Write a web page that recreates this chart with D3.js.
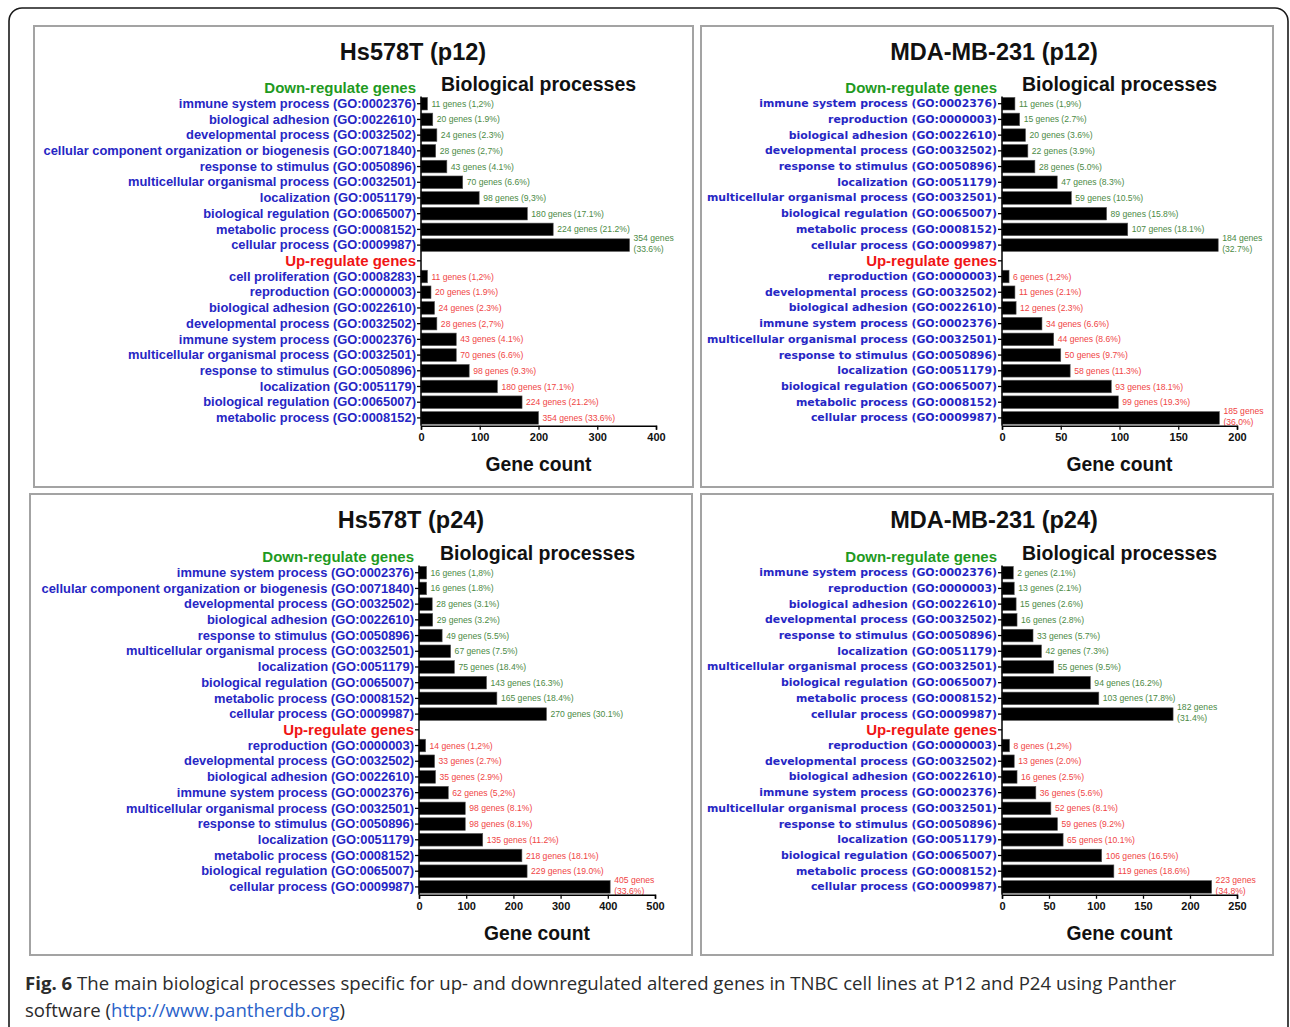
<!DOCTYPE html>
<html>
<head>
<meta charset="utf-8">
<script src="https://cdnjs.cloudflare.com/ajax/libs/d3/7.8.5/d3.min.js"></script>
<style>
  body { margin: 0; background: #fff; }
  svg { display: block; }
</style>
</head>
<body>
<div id="chart"></div>
<script>
// ---- data ----
const hs12Title = "Hs578T (p12)";
const hs12Ticks = [0, 100, 200, 300, 400];
const hs12DownTerms = [
  "immune system process (GO:0002376)",
  "biological adhesion (GO:0022610)",
  "developmental process (GO:0032502)",
  "cellular component organization or biogenesis (GO:0071840)",
  "response to stimulus (GO:0050896)",
  "multicellular organismal process (GO:0032501)",
  "localization (GO:0051179)",
  "biological regulation (GO:0065007)",
  "metabolic process (GO:0008152)",
  "cellular process (GO:0009987)"
];
const hs12DownCounts = [11, 20, 27, 25, 44, 71, 99, 181, 225, 355];
const hs12DownLabels = ["11 genes (1,2%)", "20 genes (1.9%)", "24 genes (2.3%)", "28 genes (2,7%)", "43 genes (4.1%)",
  "70 genes (6.6%)", "98 genes (9,3%)", "180 genes (17.1%)", "224 genes (21.2%)", "354 genes\n(33.6%)"];
const hs12UpTerms = [
  "cell proliferation (GO:0008283)",
  "reproduction (GO:0000003)",
  "biological adhesion (GO:0022610)",
  "developmental process (GO:0032502)",
  "immune system process (GO:0002376)",
  "multicellular organismal process (GO:0032501)",
  "response to stimulus (GO:0050896)",
  "localization (GO:0051179)",
  "biological regulation (GO:0065007)",
  "metabolic process (GO:0008152)"
];
const hs12UpCounts = [11, 17, 23, 27, 60, 60, 82, 130, 172, 200];
const hs12UpLabels = ["11 genes (1,2%)", "20 genes (1.9%)", "24 genes (2.3%)", "28 genes (2,7%)", "43 genes (4.1%)",
  "70 genes (6.6%)", "98 genes (9.3%)", "180 genes (17.1%)", "224 genes (21.2%)", "354 genes (33.6%)"];

const mda12Title = "MDA-MB-231 (p12)";
const mda12Ticks = [0, 50, 100, 150, 200];
const mda12DownTerms = [
  "immune system process (GO:0002376)",
  "reproduction (GO:0000003)",
  "biological adhesion (GO:0022610)",
  "developmental process (GO:0032502)",
  "response to stimulus (GO:0050896)",
  "localization (GO:0051179)",
  "multicellular organismal process (GO:0032501)",
  "biological regulation (GO:0065007)",
  "metabolic process (GO:0008152)",
  "cellular process (GO:0009987)"
];
const mda12DownCounts = [11, 15, 20, 22, 28, 47, 59, 89, 107, 184];
const mda12DownLabels = ["11 genes (1,9%)", "15 genes (2.7%)", "20 genes (3.6%)", "22 genes (3.9%)", "28 genes (5.0%)",
  "47 genes (8.3%)", "59 genes (10.5%)", "89 genes (15.8%)", "107 genes (18.1%)", "184 genes\n(32.7%)"];
const mda12UpTerms = [
  "reproduction (GO:0000003)",
  "developmental process (GO:0032502)",
  "biological adhesion (GO:0022610)",
  "immune system process (GO:0002376)",
  "multicellular organismal process (GO:0032501)",
  "response to stimulus (GO:0050896)",
  "localization (GO:0051179)",
  "biological regulation (GO:0065007)",
  "metabolic process (GO:0008152)",
  "cellular process (GO:0009987)"
];
const mda12UpCounts = [6, 11, 12, 34, 44, 50, 58, 93, 99, 185];
const mda12UpLabels = ["6 genes (1,2%)", "11 genes (2.1%)", "12 genes (2.3%)", "34 genes (6.6%)", "44 genes (8.6%)",
  "50 genes (9.7%)", "58 genes (11.3%)", "93 genes (18.1%)", "99 genes (19.3%)", "185 genes\n(36.0%)"];

const hs24Title = "Hs578T (p24)";
const hs24Ticks = [0, 100, 200, 300, 400, 500];
const hs24DownTerms = [
  "immune system process (GO:0002376)",
  "cellular component organization or biogenesis (GO:0071840)",
  "developmental process (GO:0032502)",
  "biological adhesion (GO:0022610)",
  "response to stimulus (GO:0050896)",
  "multicellular organismal process (GO:0032501)",
  "localization (GO:0051179)",
  "biological regulation (GO:0065007)",
  "metabolic process (GO:0008152)",
  "cellular process (GO:0009987)"
];
const hs24DownCounts = [16, 16, 28, 29, 49, 67, 75, 143, 165, 270];
const hs24DownLabels = ["16 genes (1,8%)", "16 genes (1.8%)", "28 genes (3.1%)", "29 genes (3.2%)", "49 genes (5.5%)",
  "67 genes (7.5%)", "75 genes (18.4%)", "143  genes (16.3%)", "165 genes (18.4%)", "270 genes (30.1%)"];
const hs24UpTerms = [
  "reproduction (GO:0000003)",
  "developmental process (GO:0032502)",
  "biological adhesion (GO:0022610)",
  "immune system process (GO:0002376)",
  "multicellular organismal process (GO:0032501)",
  "response to stimulus (GO:0050896)",
  "localization (GO:0051179)",
  "metabolic process (GO:0008152)",
  "biological regulation (GO:0065007)",
  "cellular process (GO:0009987)"
];
const hs24UpCounts = [14, 33, 35, 62, 98, 98, 135, 218, 229, 405];
const hs24UpLabels = ["14 genes (1,2%)", "33 genes (2.7%)", "35 genes (2.9%)", "62 genes (5,2%)", "98 genes (8.1%)",
  "98 genes (8.1%)", "135 genes (11.2%)", "218 genes (18.1%)", "229 genes (19.0%)", "405 genes\n(33.6%)"];

const mda24Title = "MDA-MB-231 (p24)";
const mda24Ticks = [0, 50, 100, 150, 200, 250];
const mda24DownTerms = [
  "immune system process (GO:0002376)",
  "reproduction (GO:0000003)",
  "biological adhesion (GO:0022610)",
  "developmental process (GO:0032502)",
  "response to stimulus (GO:0050896)",
  "localization (GO:0051179)",
  "multicellular organismal process (GO:0032501)",
  "biological regulation (GO:0065007)",
  "metabolic process (GO:0008152)",
  "cellular process (GO:0009987)"
];
const mda24DownCounts = [12, 13, 15, 16, 33, 42, 55, 94, 103, 182];
const mda24DownLabels = ["2 genes (2.1%)", "13 genes (2.1%)", "15 genes (2.6%)", "16 genes (2.8%)", "33 genes (5.7%)",
  "42 genes (7.3%)", "55 genes (9.5%)", "94 genes (16.2%)", "103 genes (17.8%)", "182 genes\n(31.4%)"];
const mda24UpTerms = [
  "reproduction (GO:0000003)",
  "developmental process (GO:0032502)",
  "biological adhesion (GO:0022610)",
  "immune system process (GO:0002376)",
  "multicellular organismal process (GO:0032501)",
  "response to stimulus (GO:0050896)",
  "localization (GO:0051179)",
  "biological regulation (GO:0065007)",
  "metabolic process (GO:0008152)",
  "cellular process (GO:0009987)"
];
const mda24UpCounts = [8, 13, 16, 36, 52, 59, 65, 106, 119, 223];
const mda24UpLabels = ["8 genes (1,2%)", "13 genes (2.0%)", "16 genes (2.5%)", "36 genes (5.6%)", "52 genes (8.1%)",
  "59 genes (9.2%)", "65 genes (10.1%)", "106 genes (16.5%)", "119 genes (18.6%)", "223 genes\n(34.8%)"];

// ---- layout ----
const ROW_STEP = 15.71;
const panels = [
  { title: hs12Title, ticks: hs12Ticks, down: [hs12DownTerms, hs12DownCounts, hs12DownLabels], up: [hs12UpTerms, hs12UpCounts, hs12UpLabels],
    box: [34, 26, 693, 487], axisX: 421, axisEnd: 656, rowTop: 80.15, titleX: 413, titleY: 60, bioX: 441, bioY: 91, font: "Liberation Sans", labelSize: 12.9 },
  { title: mda12Title, ticks: mda12Ticks, down: [mda12DownTerms, mda12DownCounts, mda12DownLabels], up: [mda12UpTerms, mda12UpCounts, mda12UpLabels],
    box: [701, 26, 1273, 487], axisX: 1002, axisEnd: 1237, rowTop: 80.15, titleX: 994, titleY: 60, bioX: 1022, bioY: 91, font: "DejaVu Sans", labelSize: 10.9 },
  { title: hs24Title, ticks: hs24Ticks, down: [hs24DownTerms, hs24DownCounts, hs24DownLabels], up: [hs24UpTerms, hs24UpCounts, hs24UpLabels],
    box: [30, 494, 692, 955], axisX: 419, axisEnd: 655, rowTop: 549.15, titleX: 411, titleY: 528, bioX: 440, bioY: 560, font: "Liberation Sans", labelSize: 12.9 },
  { title: mda24Title, ticks: mda24Ticks, down: [mda24DownTerms, mda24DownCounts, mda24DownLabels], up: [mda24UpTerms, mda24UpCounts, mda24UpLabels],
    box: [701, 494, 1273, 955], axisX: 1002, axisEnd: 1237, rowTop: 549.15, titleX: 994, titleY: 528, bioX: 1022, bioY: 560, font: "DejaVu Sans", labelSize: 10.9 }
];

const svg = d3.select("#chart").append("svg")
  .attr("width", 1290)
  .attr("height", 1027);

svg.append("rect").attr("width", 1290).attr("height", 1027).attr("fill", "#fff");

// outer rounded frame
svg.append("rect")
  .attr("x", 9).attr("y", 8)
  .attr("width", 1279).attr("height", 1100)
  .attr("rx", 13)
  .attr("fill", "none")
  .attr("stroke", "#1a1a1a")
  .attr("stroke-width", 1.6);

panels.forEach(drawPanel);

function drawPanel(p) {
  const g = svg.append("g");
  const [x0, y0, x1, y1] = p.box;

  g.append("rect")
    .attr("x", x0).attr("y", y0)
    .attr("width", x1 - x0).attr("height", y1 - y0)
    .attr("fill", "#fff")
    .attr("stroke", "#a3a3a3")
    .attr("stroke-width", 2);

  const text = { hdrDown: "Down-regulate genes", hdrUp: "Up-regulate genes" };
  const bars = [];
  const rows = ["hdrDown"];
  p.down[0].forEach((t, i) => {
    rows.push("d" + i);
    text["d" + i] = t;
    bars.push({ key: "d" + i, value: p.down[1][i], label: p.down[2][i], color: "#4b8a45" });
  });
  rows.push("hdrUp");
  p.up[0].forEach((t, i) => {
    rows.push("u" + i);
    text["u" + i] = t;
    bars.push({ key: "u" + i, value: p.up[1][i], label: p.up[2][i], color: "#f04545" });
  });

  const yEnd = p.rowTop + rows.length * ROW_STEP;
  const y = d3.scaleBand()
    .domain(rows)
    .range([p.rowTop, yEnd])
    .paddingInner(0.2)
    .paddingOuter(0.1);
  const x = d3.scaleLinear()
    .domain([0, d3.max(p.ticks)])
    .range([p.axisX, p.axisEnd]);

  // title + subtitle
  g.append("text")
    .attr("x", p.titleX).attr("y", p.titleY)
    .attr("text-anchor", "middle")
    .attr("font-family", "Liberation Sans, Arial, sans-serif")
    .attr("font-weight", "bold")
    .attr("font-size", 23.5)
    .attr("fill", "#111")
    .text(p.title);
  g.append("text")
    .attr("x", p.bioX).attr("y", p.bioY)
    .attr("font-family", "Liberation Sans, Arial, sans-serif")
    .attr("font-weight", "bold")
    .attr("font-size", 19.5)
    .attr("fill", "#111")
    .text("Biological processes");

  // bars
  g.selectAll("rect.bar")
    .data(bars)
    .join("rect")
    .attr("class", "bar")
    .attr("x", x(0))
    .attr("y", d => y(d.key))
    .attr("width", d => x(d.value) - x(0))
    .attr("height", y.bandwidth())
    .attr("fill", "#000")
    .attr("stroke", "#555")
    .attr("stroke-width", 0.6);

  // value labels
  const vl = g.selectAll("text.val")
    .data(bars)
    .join("text")
    .attr("class", "val")
    .attr("x", d => x(d.value) + 4)
    .attr("y", d => y(d.key) + y.bandwidth() / 2)
    .attr("font-family", "Liberation Sans, Arial, sans-serif")
    .attr("font-size", 8.6)
    .attr("fill", d => d.color);
  vl.each(function (d) {
    const parts = d.label.split("\n");
    const t = d3.select(this);
    if (parts.length === 1) {
      t.attr("dy", "0.35em").text(d.label);
    } else {
      t.append("tspan").attr("x", x(d.value) + 4).attr("dy", "-0.45em").text(parts[0]);
      t.append("tspan").attr("x", x(d.value) + 4).attr("dy", "1.25em").text(parts[1]);
    }
  });

  // y axis with category labels
  const yAxis = g.append("g")
    .attr("transform", `translate(${p.axisX},0)`)
    .call(d3.axisLeft(y).tickSize(4).tickPadding(1).tickFormat(k => text[k]));
  yAxis.select(".domain").remove();
  yAxis.selectAll(".tick line").attr("stroke", "#000").attr("stroke-width", 1.3);
  yAxis.selectAll(".tick text")
    .attr("font-family", p.font + ", Arial, sans-serif")
    .attr("font-weight", "bold")
    .attr("font-size", k => k.startsWith("hdr") ? 15 : p.labelSize)
    .attr("fill", k => k === "hdrDown" ? "#1f9a1f" : k === "hdrUp" ? "#f01515" : "#2626c4");
  yAxis.selectAll(".tick text")
    .filter(k => k.startsWith("hdr"))
    .attr("font-family", "Liberation Sans, Arial, sans-serif");
  yAxis.selectAll(".tick").filter(k => k === "hdrDown").select("line").remove();

  g.append("line")
    .attr("x1", p.axisX).attr("x2", p.axisX)
    .attr("y1", y("d0") - 1).attr("y2", yEnd)
    .attr("stroke", "#000")
    .attr("stroke-width", 1.5);

  // x axis
  const xAxis = g.append("g")
    .attr("transform", `translate(0,${yEnd})`)
    .call(d3.axisBottom(x).tickValues(p.ticks).tickSize(4).tickPadding(3).tickFormat(d3.format("d")));
  xAxis.select(".domain").attr("stroke", "#000").attr("stroke-width", 1.5);
  xAxis.selectAll(".tick line").attr("stroke", "#000").attr("stroke-width", 1.3);
  xAxis.selectAll(".tick text")
    .attr("font-family", "Liberation Sans, Arial, sans-serif")
    .attr("font-weight", "bold")
    .attr("font-size", 11)
    .attr("fill", "#111");

  g.append("text")
    .attr("x", (p.axisX + p.axisEnd) / 2)
    .attr("y", yEnd + 45)
    .attr("text-anchor", "middle")
    .attr("font-family", "Liberation Sans, Arial, sans-serif")
    .attr("font-weight", "bold")
    .attr("font-size", 19.3)
    .attr("fill", "#111")
    .text("Gene count");
}

// caption
const cap = svg.append("text")
  .attr("x", 25).attr("y", 990)
  .attr("font-family", "Open Sans, sans-serif")
  .attr("font-size", 18.6)
  .attr("fill", "#2b2b2b");
cap.append("tspan").attr("font-weight", "bold").text("Fig. 6");
cap.append("tspan").text(" The main biological processes specific for up- and downregulated altered genes in TNBC cell lines at P12 and P24 using Panther");
const cap2 = svg.append("text")
  .attr("x", 25).attr("y", 1017)
  .attr("font-family", "Open Sans, sans-serif")
  .attr("font-size", 18.6)
  .attr("fill", "#2b2b2b");
cap2.append("tspan").text("software (");
cap2.append("tspan").attr("fill", "#2a62c9").text("http://www.pantherdb.org");
cap2.append("tspan").text(")");
</script>
</body>
</html>
